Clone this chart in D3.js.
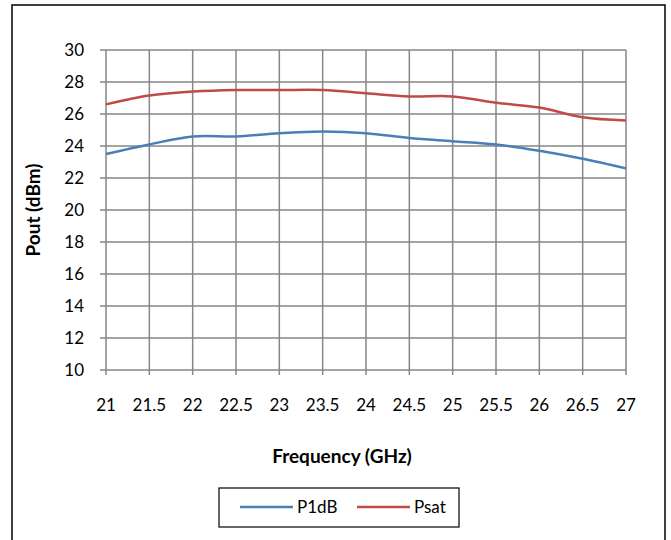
<!DOCTYPE html>
<html><head><meta charset="utf-8">
<script src="https://cdn.jsdelivr.net/npm/d3@7"></script>
<style>body{margin:0;background:#fff}svg{display:block}text{font-family:Lato,"Open Sans",sans-serif;fill:#000}</style>
</head><body>
<svg id="c" width="671" height="540"></svg>
<script>
const freq = [21,21.5,22,22.5,23,23.5,24,24.5,25,25.5,26,26.5,27];
const p1dB = [23.5,24.1,24.6,24.6,24.8,24.9,24.8,24.5,24.3,24.1,23.7,23.2,22.6];
const psat = [26.6,27.15,27.4,27.5,27.5,27.5,27.3,27.1,27.1,26.7,26.4,25.8,25.6];
const xTicks = [21,21.5,22,22.5,23,23.5,24,24.5,25,25.5,26,26.5,27];
const yTicks = [10,12,14,16,18,20,22,24,26,28,30];
const seriesNames = ["P1dB","Psat"];
const colors = ["#4a7ebb","#be4b48"];

const svg = d3.select("#c");
svg.append("rect").attr("x",12).attr("y",5).attr("width",653).attr("height",560)
  .attr("fill","none").attr("stroke","#000").attr("stroke-width",1.5);

const x = d3.scaleLinear().domain([21,27]).range([106,626]);
const y = d3.scaleLinear().domain([10,30]).range([370,50]);
const gridCol = "#868686";

// grid
svg.append("g").selectAll("line").data(xTicks).join("line")
  .attr("x1",d=>x(d)).attr("x2",d=>x(d)).attr("y1",y(30)).attr("y2",y(10)+5)
  .attr("stroke",gridCol).attr("stroke-width",1.5);
svg.append("g").selectAll("line").data(yTicks).join("line")
  .attr("x1",x(21)-6).attr("x2",x(27)).attr("y1",d=>y(d)).attr("y2",d=>y(d))
  .attr("stroke",gridCol).attr("stroke-width",1.5);

// tick labels
svg.append("g").selectAll("text").data(yTicks).join("text")
  .attr("x",84).attr("y",d=>y(d)+6).attr("text-anchor","end")
  .attr("font-size",17).text(d=>d);
svg.append("g").selectAll("text").data(xTicks).join("text")
  .attr("x",d=>x(d)).attr("y",411).attr("text-anchor","middle")
  .attr("font-size",17).text(d=>d);

// titles
svg.append("text").attr("x",342).attr("y",463).attr("text-anchor","middle")
  .attr("font-size",19).attr("font-weight","bold").text("Frequency (GHz)");
svg.append("text").attr("transform","translate(40,210) rotate(-90)").attr("text-anchor","middle")
  .attr("font-size",19).attr("font-weight","bold").text("Pout (dBm)");

// lines
const line = d3.line().x((d,i)=>x(freq[i])).y(d=>y(d)).curve(d3.curveCardinal.tension(0));
[p1dB,psat].forEach((s,k)=>{
  svg.append("path").attr("d",line(s)).attr("fill","none")
    .attr("stroke",colors[k]).attr("stroke-width",2.5);
});

// legend
svg.append("rect").attr("x",219).attr("y",488).attr("width",240).attr("height",39)
  .attr("fill","#fff").attr("stroke","#000").attr("stroke-width",1.2);
const lx = [240,357];
seriesNames.forEach((n,k)=>{
  svg.append("line").attr("x1",lx[k]).attr("x2",lx[k]+53).attr("y1",507).attr("y2",507)
    .attr("stroke",colors[k]).attr("stroke-width",2.5);
  svg.append("text").attr("x",lx[k]+57).attr("y",513).attr("font-size",17).text(n);
});
</script>
</body></html>
